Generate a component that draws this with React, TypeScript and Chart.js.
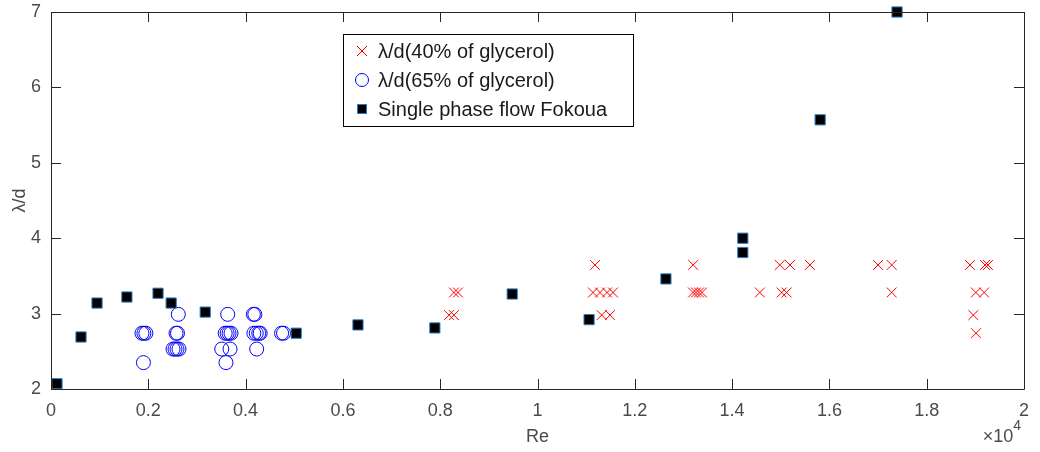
import React, { useEffect, useRef } from "react";
import { Chart, registerables } from "chart.js";

Chart.register(...registerables);

// ---- data ----
const xTickValues = [0, 2000, 4000, 6000, 8000, 10000, 12000, 14000, 16000, 18000, 20000];
const yTickValues = [2, 3, 4, 5, 6, 7];

const fokouaRe = [123, 617, 946, 1560, 2200, 2470, 3170, 5040, 6310, 7890, 9480, 11060, 12640, 14220, 14220, 15810, 17390];
const fokouaLd = [2.07, 2.69, 3.14, 3.22, 3.27, 3.14, 3.02, 2.74, 2.85, 2.81, 3.26, 2.92, 3.46, 4.0, 3.81, 5.57, 7.0];

const gly65Re = [1870, 1910, 1950, 1900, 2617, 2570, 2600, 2508, 2549, 2590, 2631, 3632, 3580, 3620, 3660, 3700, 3510, 3680, 3597, 4160, 4190, 4170, 4220, 4270, 4300, 4228, 4740, 4780];
const gly65Ld = [2.74, 2.74, 2.74, 2.35, 2.99, 2.74, 2.74, 2.53, 2.53, 2.53, 2.53, 2.99, 2.74, 2.74, 2.74, 2.74, 2.53, 2.53, 2.35, 2.99, 2.99, 2.74, 2.74, 2.74, 2.74, 2.53, 2.74, 2.74];

const gly40Re = [11182, 13200, 14980, 15190, 15600, 17000, 17280, 18890, 19200, 19260,
  8283, 8366, 11141, 11285, 11429, 11552, 13196, 13258, 13320, 13381, 14570, 15020, 15120, 17280, 19010, 19180,
  8181, 8283, 11320, 11490, 18958,
  19013];
const gly40Ld = [3.645, 3.645, 3.645, 3.645, 3.645, 3.645, 3.645, 3.645, 3.645, 3.645,
  3.28, 3.28, 3.28, 3.28, 3.28, 3.28, 3.28, 3.28, 3.28, 3.28, 3.28, 3.28, 3.28, 3.28, 3.28, 3.28,
  2.98, 2.98, 2.98, 2.98, 2.98,
  2.74];

const legendLabels = ["\u03bb/d(40% of glycerol)", "\u03bb/d(65% of glycerol)", "Single phase flow Fokoua"];
const xTitle = "Re";
const yTitle = "\u03bb/d";

const pair = (xs: number[], ys: number[]) => xs.map((x, i) => ({ x, y: ys[i] }));

const FONT = "'Liberation Sans', Arial, Helvetica, sans-serif";
const TEXT = "#4a4a4a";
const AXIS = "#262626";

const matlabPlugin = {
  id: "matlabDecor",
  afterDraw(chart: any) {
    const { ctx, chartArea: a, scales } = chart;
    const xs = scales.x, ys = scales.y;
    ctx.save();
    // box
    ctx.strokeStyle = AXIS;
    ctx.lineWidth = 1;
    ctx.beginPath();
    ctx.rect(Math.round(a.left) + 0.5, Math.round(a.top) + 0.5, Math.round(a.right - a.left), Math.round(a.bottom - a.top));
    ctx.stroke();
    // inward ticks
    const L = 10;
    ctx.beginPath();
    xTickValues.forEach((v) => {
      const px = Math.round(xs.getPixelForValue(v)) + 0.5;
      ctx.moveTo(px, a.bottom); ctx.lineTo(px, a.bottom - L);
      ctx.moveTo(px, a.top); ctx.lineTo(px, a.top + L);
    });
    yTickValues.forEach((v) => {
      const py = Math.round(ys.getPixelForValue(v)) + 0.5;
      ctx.moveTo(a.left, py); ctx.lineTo(a.left + L, py);
      ctx.moveTo(a.right, py); ctx.lineTo(a.right - L, py);
    });
    ctx.stroke();

    // exponent label
    ctx.fillStyle = TEXT;
    ctx.textBaseline = "middle";
    ctx.textAlign = "right";
    ctx.font = `14px ${FONT}`;
    ctx.fillText("4", a.right - 3, 426);
    const w4 = ctx.measureText("4").width;
    ctx.font = `18px ${FONT}`;
    ctx.fillText("\u00d710", a.right - 3 - w4, 437);

    // legend
    const bx = 343, by = 34, bw = 290, bh = 92;
    ctx.fillStyle = "#ffffff";
    ctx.fillRect(bx, by, bw, bh);
    ctx.strokeStyle = "#000000";
    ctx.lineWidth = 1;
    ctx.strokeRect(bx + 0.5, by + 0.5, bw, bh);
    const rows = [51, 80, 109];
    const mx = 362;
    // cross
    ctx.strokeStyle = "#ff0000";
    ctx.beginPath();
    ctx.moveTo(mx - 5, rows[0] - 5); ctx.lineTo(mx + 5, rows[0] + 5);
    ctx.moveTo(mx + 5, rows[0] - 5); ctx.lineTo(mx - 5, rows[0] + 5);
    ctx.stroke();
    // circle
    ctx.strokeStyle = "#0000ff";
    ctx.beginPath();
    ctx.arc(mx, rows[1], 6.5, 0, Math.PI * 2);
    ctx.stroke();
    // square
    ctx.fillStyle = "#000000";
    ctx.fillRect(mx - 5, rows[2] - 5, 10, 10);
    ctx.strokeStyle = "#2b7bbf";
    ctx.strokeRect(mx - 5 + 0.5, rows[2] - 5 + 0.5, 9, 9);
    ctx.fillStyle = "#1a1a1a";
    ctx.textAlign = "left";
    ctx.font = `20px ${FONT}`;
    legendLabels.forEach((t, i) => ctx.fillText(t, 378, rows[i] + 1));
    ctx.restore();
  },
};

export default function App() {
  const ref = useRef<HTMLCanvasElement | null>(null);
  useEffect(() => {
    document.body.style.margin = "0";
    const canvas = ref.current!;
    const chart = new Chart(canvas, {
      type: "scatter",
      data: {
        datasets: [
          {
            label: legendLabels[2],
            data: pair(fokouaRe, fokouaLd),
            pointStyle: "rect",
            pointRadius: 7.2,
            backgroundColor: "#000000",
            borderColor: "#2b7bbf",
            borderWidth: 1,
            order: 0,
            clip: false as any,
          },
          {
            label: legendLabels[1],
            data: pair(gly65Re, gly65Ld),
            pointStyle: "circle",
            pointRadius: 7,
            backgroundColor: "rgba(0,0,0,0)",
            borderColor: "#0000ff",
            borderWidth: 1,
            order: 1,
          },
          {
            label: legendLabels[0],
            data: pair(gly40Re, gly40Ld),
            pointStyle: "crossRot",
            pointRadius: 7,
            backgroundColor: "#ff0000",
            borderColor: "#ff0000",
            borderWidth: 1,
            order: 2,
          },
        ],
      },
      options: {
        animation: false,
        responsive: false,
        devicePixelRatio: 1,
        layout: { padding: { top: 12, right: 16, left: 0, bottom: 0 } },
        plugins: { legend: { display: false }, tooltip: { enabled: false } },
        scales: {
          x: {
            type: "linear",
            min: 0,
            max: 20000,
            afterBuildTicks: (s: any) => { s.ticks = xTickValues.map((v) => ({ value: v })); },
            afterFit: (s: any) => { s.height = 63; s.paddingLeft = 0; s.paddingRight = 0; },
            grid: { display: false, drawTicks: false },
            border: { display: false },
            ticks: {
              padding: 11,
              maxRotation: 0,
              autoSkip: false,
              color: TEXT,
              font: { family: FONT, size: 18 },
              callback: (v: any) => String(Math.round(Number(v) / 1000) / 10),
            },
            title: { display: true, text: xTitle, color: TEXT, font: { family: FONT, size: 18 }, padding: { top: 0, bottom: 4 } },
          },
          y: {
            type: "linear",
            min: 2,
            max: 7,
            afterBuildTicks: (s: any) => { s.ticks = yTickValues.map((v) => ({ value: v })); },
            afterFit: (s: any) => { s.width = 51; s.paddingTop = 0; s.paddingBottom = 0; },
            grid: { display: false, drawTicks: false },
            border: { display: false },
            ticks: {
              padding: 10,
              color: TEXT,
              font: { family: FONT, size: 18 },
              callback: (v: any) => String(v),
            },
            title: { display: true, text: yTitle, color: TEXT, font: { family: FONT, size: 18 }, padding: { top: 9, bottom: 0 } },
          },
        },
      },
      plugins: [matlabPlugin],
    } as any);
    return () => chart.destroy();
  }, []);
  return <canvas ref={ref} width={1040} height={452} style={{ display: "block" }} />;
}
